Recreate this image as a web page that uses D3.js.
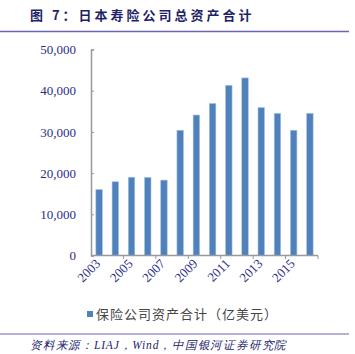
<!DOCTYPE html>
<html><head><meta charset="utf-8">
<script src="https://cdn.jsdelivr.net/npm/d3@7"></script>
<style>
html,body{margin:0;padding:0;background:#fff;}
svg{display:block;}
</style></head>
<body>
<script>
const years = ["2003","2004","2005","2006","2007","2008","2009","2010","2011","2012","2013","2014","2015","2016"];
const assets = [16000,17900,19000,18950,18300,30400,34100,36900,41300,43100,35900,34500,30400,34500];
const yTicks = [0,10000,20000,30000,40000,50000];
const xLabels = ["2003","2005","2007","2009","2011","2013","2015"];
const titleText = "图 7：日本寿险公司总资产合计";
const legendText = "保险公司资产合计（亿美元）";
const sourceText = "资料来源：LIAJ，Wind，中国银河证券研究院";

const W = 355, H = 354;
const svg = d3.select("body").append("svg").attr("width", W).attr("height", H);

const navy = "#2b2b8c";
const x = d3.scaleBand().domain(years).range([91, 318]).paddingInner(0.6).paddingOuter(0.3);
const y = d3.scaleLinear().domain([0, 50000]).range([255.5, 49.5]);

// title
svg.append("text").attr("x", 30).attr("y", 20)
  .attr("font-family", "Noto Sans CJK SC").attr("font-weight", "bold")
  .attr("font-size", 13).attr("fill", "#1f1f66").attr("letter-spacing", 3)
  .text(titleText);
svg.append("line").attr("x1", 0).attr("x2", 349).attr("y1", 31.5).attr("y2", 31.5)
  .attr("stroke", "#6b63b5").attr("stroke-width", 1.5);

// y axis
const yAxis = svg.append("g").attr("transform", "translate(91,0)")
  .call(d3.axisLeft(y).tickValues(yTicks).tickSize(-3).tickPadding(15)
    .tickFormat(d3.format(",")));
yAxis.select(".domain").attr("stroke", "#999").attr("stroke-width", 1.5);
yAxis.selectAll(".tick line").attr("stroke", "#999");
yAxis.selectAll("text").attr("font-family", "Liberation Serif").attr("font-size", 13).attr("fill", navy);

// bars
svg.append("g").selectAll("rect").data(years).join("rect")
  .attr("x", d => x(d)).attr("width", x.bandwidth())
  .attr("y", (d, i) => y(assets[i])).attr("height", (d, i) => y(0) - y(assets[i]))
  .attr("fill", "#4f81bd").attr("stroke", "#a9c1e0").attr("stroke-width", 0.6);

// x axis
const xg = svg.append("g").attr("transform", "translate(0,255.5)");
xg.append("line").attr("x1", 91).attr("x2", 318).attr("stroke", "#999").attr("stroke-width", 1.5);
const boundaries = d3.range(2, years.length + 1, 2).map(k => 91 + k * (318 - 91) / years.length);
xg.selectAll(".xt").data(boundaries).join("line")
  .attr("x1", d => d).attr("x2", d => d).attr("y1", 0).attr("y2", 3.5)
  .attr("stroke", "#999");
xg.selectAll(".xl").data(xLabels).join("text")
  .attr("transform", d => `translate(${x(d) + x.bandwidth() / 2 + 2},${9}) rotate(-45)`)
  .attr("text-anchor", "end").attr("font-family", "Liberation Serif").attr("font-size", 13)
  .attr("fill", navy).text(d => d);

// legend
svg.append("rect").attr("x", 87).attr("y", 311).attr("width", 6).attr("height", 6).attr("fill", "#4f81bd");
svg.append("text").attr("x", 96).attr("y", 318.5)
  .attr("font-family", "Noto Sans CJK SC").attr("font-size", 13).attr("fill", "#444")
  .attr("letter-spacing", 1)
  .text(legendText);

// bottom line & source
svg.append("line").attr("x1", 0).attr("x2", 349).attr("y1", 334).attr("y2", 334)
  .attr("stroke", "#6b63b5").attr("stroke-width", 1.2);
svg.append("text").attr("x", 30).attr("y", 349)
  .attr("font-family", "Liberation Serif").attr("font-style", "italic")
  .attr("font-size", 11.5).attr("fill", "#23236b").attr("letter-spacing", 0.8)
  .text(sourceText);
</script>
</body></html>
